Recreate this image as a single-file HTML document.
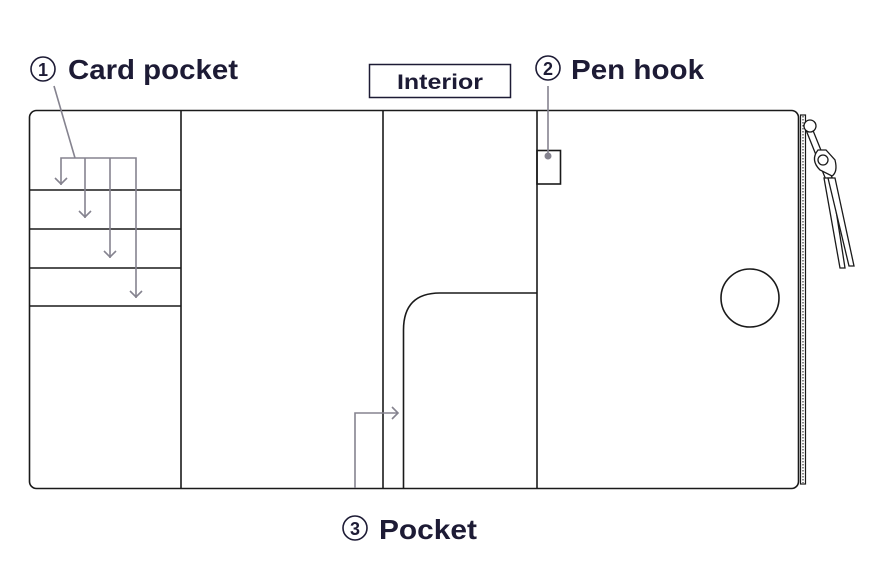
<!DOCTYPE html>
<html><head><meta charset="utf-8"><style>
html,body{margin:0;padding:0;background:#fff;}
svg{display:block;}
text{font-family:"Liberation Sans",sans-serif;font-weight:bold;fill:#1d1b35;}
</style></head><body>
<svg width="880" height="576" viewBox="0 0 880 576" xmlns="http://www.w3.org/2000/svg">
<circle cx="43" cy="69" r="12" fill="none" stroke="#1d1b35" stroke-width="1.6"/>
<text x="43" y="76" font-size="18" text-anchor="middle" font-weight="normal">1</text>
<text x="68" y="79" font-size="28" textLength="170" lengthAdjust="spacingAndGlyphs">Card pocket</text>

<rect x="369.5" y="64.5" width="141" height="33" fill="none" stroke="#1d1b35" stroke-width="1.5"/>
<text x="440" y="89" font-size="21" text-anchor="middle" textLength="86" lengthAdjust="spacingAndGlyphs">Interior</text>

<circle cx="548" cy="68" r="12" fill="none" stroke="#1d1b35" stroke-width="1.6"/>
<text x="548" y="75" font-size="18" text-anchor="middle" font-weight="normal">2</text>
<text x="571" y="79" font-size="28" textLength="133" lengthAdjust="spacingAndGlyphs">Pen hook</text>

<circle cx="355" cy="528" r="12" fill="none" stroke="#1d1b35" stroke-width="1.6"/>
<text x="355" y="535" font-size="18" text-anchor="middle" font-weight="normal">3</text>
<text x="379" y="539" font-size="28" textLength="98" lengthAdjust="spacingAndGlyphs">Pocket</text>

<rect x="800.5" y="115" width="5" height="369" fill="#fff" stroke="#1a1a1a" stroke-width="1.2"/>
<line x1="803" y1="116" x2="803" y2="483" stroke="#1a1a1a" stroke-width="1" stroke-dasharray="1.5,1.5"/>
<g fill="#fff" stroke="#1a1a1a" stroke-width="1.3">
<path d="M806 130 L826 180 L833 180 L812 128 Z"/>
<path d="M824 178 L840 268 L845 268 L831 178 Z"/>
<path d="M828 178 L849 266 L854 266 L835 178 Z"/>
<path d="M818 150 Q810 160 820 170 L832 176 Q838 172 835 160 L826 150 Z"/>
<circle cx="810" cy="126" r="6"/>
<circle cx="823" cy="160" r="5"/>
</g>

<rect x="29.5" y="110.5" width="769" height="378" rx="7" fill="none" stroke="#1a1a1a" stroke-width="1.6"/>
<g stroke="#1a1a1a" stroke-width="1.6" fill="none">
<line x1="181" y1="110" x2="181" y2="489"/>
<line x1="383" y1="110" x2="383" y2="489"/>
<line x1="537" y1="110" x2="537" y2="489"/>
<line x1="29" y1="190" x2="181" y2="190"/>
<line x1="29" y1="229" x2="181" y2="229"/>
<line x1="29" y1="268" x2="181" y2="268"/>
<line x1="29" y1="306" x2="181" y2="306"/>
<path d="M403.5 489 L403.5 330 Q403.5 293 440 293 L537 293"/>
<rect x="537" y="150.5" width="23.5" height="33.5"/>
<circle cx="750" cy="298" r="29"/>
</g>

<g stroke="#85838f" stroke-width="1.6" fill="none">
<line x1="54" y1="86" x2="75" y2="158"/>
<polyline points="61,185 61,158 136,158 136,298"/>
<line x1="85" y1="158" x2="85" y2="218"/>
<line x1="110" y1="158" x2="110" y2="258"/>
<polyline points="55,178 61,184 67,178"/>
<polyline points="79,211 85,217 91,211"/>
<polyline points="104,251 110,257 116,251"/>
<polyline points="130,291 136,297 142,291"/>
<line x1="548" y1="86" x2="548" y2="156"/>
<polyline points="355,488 355,413 398,413"/>
<polyline points="392,407 398,413 392,419"/>
</g>
<circle cx="548" cy="156" r="3.5" fill="#85838f"/>
</svg>
</body></html>
